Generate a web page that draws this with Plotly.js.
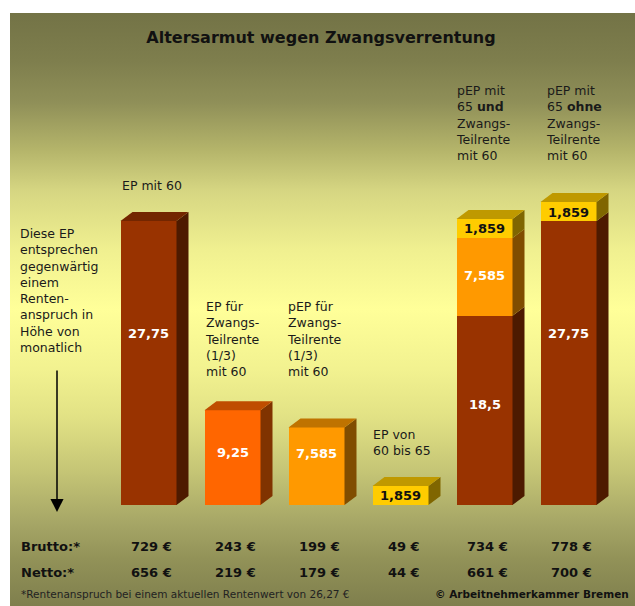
<!DOCTYPE html>
<html><head><meta charset="utf-8">
<script src="https://cdn.plot.ly/plotly-3.0.1.min.js"></script>
<style>
html,body{margin:0;padding:0;background:#fff;}
#wrap{position:relative;width:635px;height:606px;}
#bg{position:absolute;left:10px;top:13px;width:625px;height:593px;
background:linear-gradient(to bottom,#737346 0%,#7e7e4d 8%,#8f8f58 15%,#b4b46a 23%,#d6d682 30%,#f0f090 40%,#ffff99 50%,#f2f290 60%,#e2e285 68%,#c6c676 77%,#a6a666 86%,#929258 92%,#7f7f4d 100%);}
#chart{position:absolute;left:0;top:0;width:635px;height:606px;}
</style></head>
<body><div id="wrap"><div id="bg"></div><div id="chart"></div></div>
<script>
// ---- data ----
const positions = [0, 1, 2, 3, 4, 5];
const epMit60 = [27.75, null, null, null, 18.5, 27.75];
const epZwangsTeilrente = [null, 9.25, null, null, null, null];
const pepZwangsTeilrente = [null, null, 7.585, null, 7.585, null];
const ep60bis65 = [null, null, null, 1.859, 1.859, 1.859];
const brutto = ["729 €", "243 €", "199 €", "49 €", "734 €", "778 €"];
const netto = ["656 €", "219 €", "179 €", "44 €", "661 €", "700 €"];
const catLabels = [
  "EP mit 60",
  "EP für<br>Zwangs-<br>Teilrente<br>(1/3)<br>mit 60",
  "pEP für<br>Zwangs-<br>Teilrente<br>(1/3)<br>mit 60",
  "EP von<br>60 bis 65",
  "pEP mit<br>65 <b>und</b><br>Zwangs-<br>Teilrente<br>mit 60",
  "pEP mit<br>65 <b>ohne</b><br>Zwangs-<br>Teilrente<br>mit 60"
];
const sideNote = "Diese EP<br>entsprechen<br>gegenwärtig<br>einem<br>Renten-<br>anspruch in<br>Höhe von<br>monatlich";

// ---- geometry / styles ----
const L = 10, T = 13, W = 625, H = 593;
const pxPerX = 84, x0pix = 148.5;
const pxPerY = 10.234, y0pix = 505;
const xr = [(L - x0pix) / pxPerX, (L + W - x0pix) / pxPerX];
const yr = [-(T + H - y0pix) / pxPerY, (y0pix - T) / pxPerY];
const bw = 56 / pxPerX;
const dx = 12 / pxPerX, dy = 9 / pxPerY;
const FONT = "DejaVu Sans";

const series = [
  {name: "EP mit 60", v: epMit60, front: "#993300", top: "#732600", side: "#4d1a00", tc: "#ffffff", shift: [30, 0, 0, 0, 6, 30]},
  {name: "EP Zwangs-Teilrente", v: epZwangsTeilrente, front: "#ff6600", top: "#bf4d00", side: "#803300", tc: "#ffffff", shift: [0, 5, 0, 0, 0, 0]},
  {name: "pEP Zwangs-Teilrente", v: pepZwangsTeilrente, front: "#ff9900", top: "#bf7300", side: "#804d00", tc: "#ffffff", shift: [0, 0, 13, 0, 1, 0]},
  {name: "EP 60 bis 65", v: ep60bis65, front: "#ffcc00", top: "#bf9900", side: "#806600", tc: "#111111", shift: [0, 0, 0, 0, 0, -1]}
];

const traces = [];
const shapes = [];
const annotations = [];
const base = positions.map(() => 0);
const topInfo = positions.map(() => null);

series.forEach(s => {
  traces.push({
    type: "bar", x: positions, y: s.v, width: bw, name: s.name,
    marker: {color: s.front, line: {width: 0}}, hoverinfo: "skip", showlegend: false
  });
  positions.forEach((p, i) => {
    const v = s.v[i];
    if (v == null) return;
    const y0 = base[i], y1 = base[i] + v;
    const xl = p - bw / 2, xrr = p + bw / 2;
    shapes.push({type: "path", xref: "x", yref: "y", line: {width: 0}, fillcolor: s.side,
      path: `M${xrr},${y0} L${xrr + dx},${y0 + dy} L${xrr + dx},${y1 + dy} L${xrr},${y1} Z`});
    topInfo[i] = {xl, xrr, y: y1, color: s.top};
    annotations.push({xref: "x", yref: "y", x: p, y: (y0 + y1) / 2, yshift: s.shift[i],
      text: "<b>" + String(v).replace(".", ",") + "</b>", showarrow: false,
      font: {family: FONT, size: 13, color: s.tc}, xanchor: "center", yanchor: "middle"});
    base[i] = y1;
  });
});
topInfo.forEach(t => {
  if (!t) return;
  shapes.push({type: "path", xref: "x", yref: "y", line: {width: 0}, fillcolor: t.color,
    path: `M${t.xl},${t.y} L${t.xl + dx},${t.y + dy} L${t.xrr + dx},${t.y + dy} L${t.xrr},${t.y} Z`});
});

const px = x => (x - L) / W;
const py = y => (T + H - y) / H;
const txt = (text, x, y, opts = {}) => Object.assign({
  xref: "paper", yref: "paper", x: px(x), y: py(y), text, showarrow: false,
  xanchor: "left", yanchor: "middle", align: "left",
  font: {family: FONT, size: 12.5, color: "#1a1a1a"}
}, opts);

// category descriptions
const labelPos = [[120, 185], [203, 339], [285, 339], [371, 442.5], [454, 123], [544, 123]];
catLabels.forEach((c, i) => annotations.push(txt(c, labelPos[i][0], labelPos[i][1])));
annotations.push(txt(sideNote, 18, 290.5));

// arrow
annotations.push({xref: "paper", yref: "paper", x: px(57), y: py(512), ax: 0, ay: -143,
  text: "", showarrow: true, arrowhead: 2, arrowsize: 1.75, arrowwidth: 1.5, arrowcolor: "#000", standoff: 0});

// Brutto / Netto rows
const rowFont = {family: FONT, size: 13, color: "#111"};
annotations.push(txt("<b>Brutto:*</b>", 19, 546, {font: rowFont}));
annotations.push(txt("<b>Netto:*</b>", 19, 572, {font: rowFont}));
positions.forEach((p, i) => {
  annotations.push({xref: "x", yref: "paper", x: p, xshift: 3, y: py(546), text: "<b>" + brutto[i] + "</b>",
    showarrow: false, xanchor: "center", yanchor: "middle", font: rowFont});
  annotations.push({xref: "x", yref: "paper", x: p, xshift: 3, y: py(572), text: "<b>" + netto[i] + "</b>",
    showarrow: false, xanchor: "center", yanchor: "middle", font: rowFont});
});

// footer
annotations.push(txt("*Rentenanspruch bei einem aktuellen Rentenwert von 26,27 €", 19, 594,
  {font: {family: FONT, size: 10.5, color: "#222"}}));
annotations.push(txt("<b>© Arbeitnehmerkammer Bremen</b>", 631, 594,
  {xanchor: "right", font: {family: FONT, size: 10.5, color: "#111"}}));

const layout = {
  width: 635, height: 606,
  margin: {l: L, r: 0, t: T, b: 0, pad: 0},
  paper_bgcolor: "rgba(0,0,0,0)", plot_bgcolor: "rgba(0,0,0,0)",
  barmode: "stack",
  title: {text: "<b>Altersarmut wegen Zwangsverrentung</b>", xref: "container", yref: "container",
    x: 321 / 635, y: 1 - 37 / 606, xanchor: "center", yanchor: "middle",
    font: {family: FONT, size: 16, color: "#111"}},
  xaxis: {range: xr, visible: false, fixedrange: true},
  yaxis: {range: yr, visible: false, fixedrange: true},
  shapes, annotations, showlegend: false
};
Plotly.newPlot("chart", traces, layout, {displayModeBar: false, staticPlot: true});
</script>
</body></html>
